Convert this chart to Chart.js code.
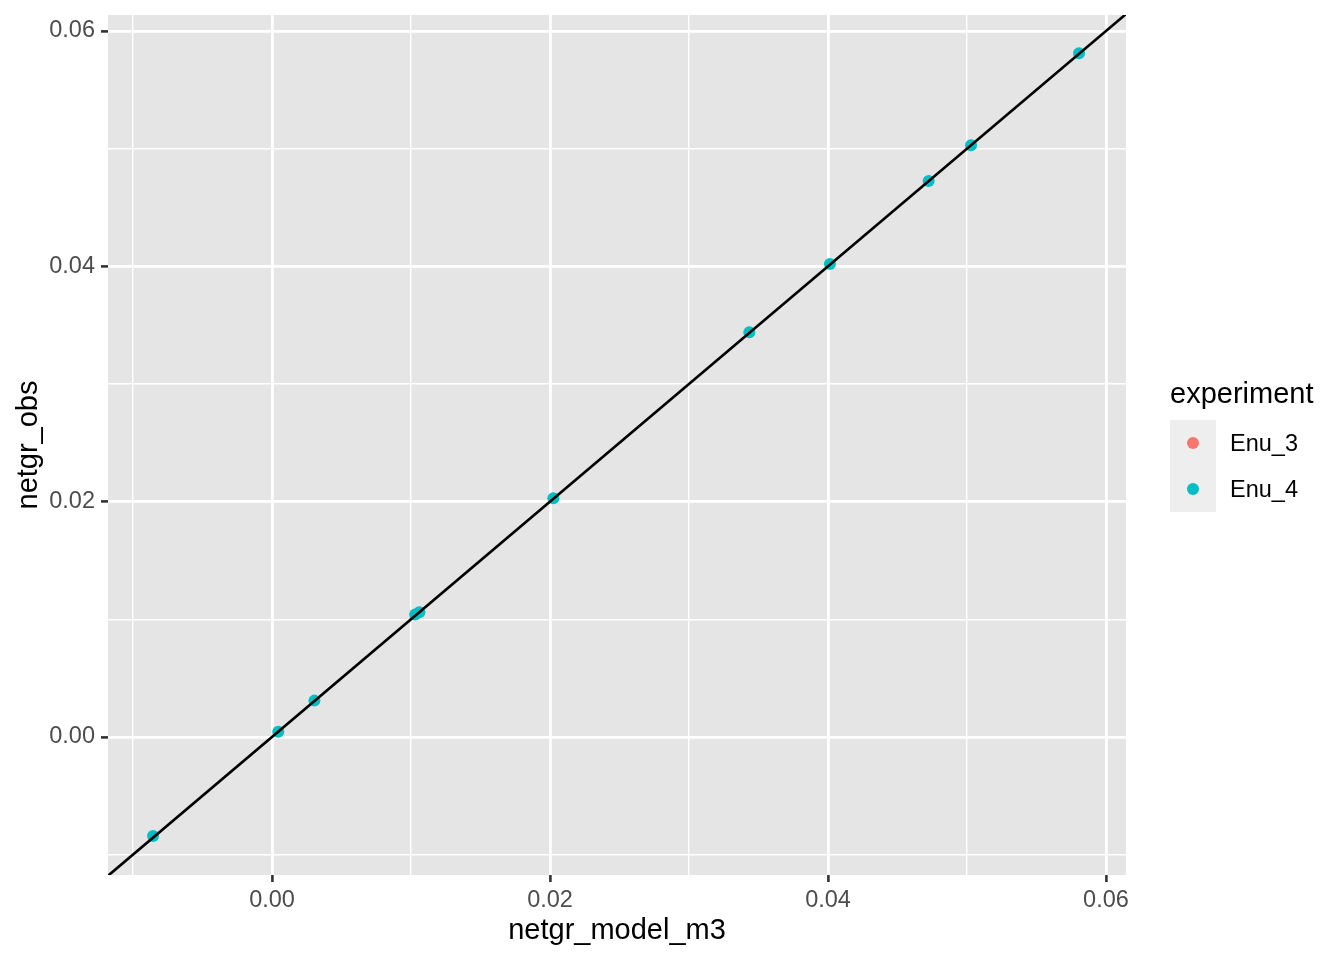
<!DOCTYPE html>
<html>
<head>
<meta charset="utf-8">
<script src="https://cdn.jsdelivr.net/npm/chart.js@4/dist/chart.umd.min.js"></script>
<style>
  html, body { margin: 0; padding: 0; background: #ffffff; }
  #wrap { position: relative; width: 1344px; height: 960px; }
  canvas { position: absolute; left: 0; top: 0; }
  .lg { position: absolute; font-family: "Liberation Sans", Arial, sans-serif; color: #000; white-space: nowrap; }
  .lgTitle { left: 1170px; top: 376px; font-size: 29px; line-height: 34px; }
  .lgKeys { left: 1170px; top: 420px; width: 46px; height: 92px; background: #EEEEEE; }
  .dot { position: absolute; width: 12px; height: 12px; border-radius: 50%; left: 17px; }
  .lgLabel { font-size: 23.5px; line-height: 28px; left: 1230px; }
</style>
</head>
<body>
<div id="wrap">
  <canvas id="c" width="1344" height="960"></canvas>
  <div class="lg lgTitle">experiment</div>
  <div class="lg lgKeys">
    <div class="dot" style="top:17px;background:#F8766D"></div>
    <div class="dot" style="top:63px;background:#00BFC4"></div>
  </div>
  <div class="lg lgLabel" style="top:429px">Enu_3</div>
  <div class="lg lgLabel" style="top:475px">Enu_4</div>
</div>
<script>
// ---- data ----
const seriesNames = ["Enu_3", "Enu_4"];
const seriesColors = ["#F8766D", "#00BFC4"];
const enu3Model = [];
const enu3Obs = [];
const enu4Model = [-0.00856, 0.00045, 0.00305, 0.0103, 0.0106, 0.02024, 0.03434, 0.04014, 0.04724, 0.05029, 0.05806];
const enu4Obs   = [-0.00841, 0.00045, 0.00309, 0.0104, 0.0106, 0.02029, 0.0344, 0.0402, 0.04726, 0.05029, 0.05811];
const xTicks = [-0.01, 0.00, 0.01, 0.02, 0.03, 0.04, 0.05, 0.06];
const yTicks = [-0.01, 0.00, 0.01, 0.02, 0.03, 0.04, 0.05, 0.06];
const majorTicks = [0.00, 0.02, 0.04, 0.06];
const xRange = [-0.0118, 0.06144];
const yRange = [-0.01173, 0.06136];
const ablineX = [-0.02, 0.07]; // reference line y = x
const ablineSlope = 1, ablineIntercept = 0;

const toPts = (xs, ys) => xs.map((x, i) => ({x: x, y: ys[i]}));
const isMajor = v => majorTicks.some(m => Math.abs(m - v) < 1e-9);

const bgPlugin = {
  id: 'panelBg',
  beforeDraw(chart) {
    const {ctx, chartArea: a} = chart;
    ctx.save();
    ctx.fillStyle = '#E5E5E5';
    ctx.fillRect(a.left, a.top, a.right - a.left, a.bottom - a.top);
    ctx.restore();
  }
};

const FONT = '"Liberation Sans", Arial, sans-serif';
const gridOpts = {
  color: '#FFFFFF',
  lineWidth: c => (c.tick && isMajor(c.tick.value)) ? 2.8 : 1.4,
  tickColor: c => (c.tick && isMajor(c.tick.value)) ? '#333333' : 'rgba(0,0,0,0)',
  tickWidth: 2.6,
  tickLength: 7,
  drawTicks: true
};

new Chart(document.getElementById('c'), {
  type: 'scatter',
  data: {
    datasets: [
      {
        type: 'line',
        label: 'abline',
        data: ablineX.map(x => ({x: x, y: ablineSlope * x + ablineIntercept})),
        borderColor: '#000000',
        borderWidth: 2.6,
        pointRadius: 0,
        fill: false,
        order: 0
      },
      {
        label: seriesNames[1],
        data: toPts(enu4Model, enu4Obs),
        backgroundColor: seriesColors[1],
        borderWidth: 0,
        pointRadius: 6,
        order: 1
      },
      {
        label: seriesNames[0],
        data: toPts(enu3Model, enu3Obs),
        backgroundColor: seriesColors[0],
        borderWidth: 0,
        pointRadius: 6,
        order: 2
      }
    ]
  },
  options: {
    responsive: false,
    animation: false,
    layout: { padding: { top: 15, right: 218, left: 0, bottom: 0 } },
    plugins: { legend: { display: false }, tooltip: { enabled: false } },
    scales: {
      x: {
        type: 'linear',
        min: xRange[0], max: xRange[1],
        afterBuildTicks: s => { s.ticks = xTicks.map(v => ({value: v})); },
        afterFit: s => { s.height = 85; s.paddingLeft = 0; s.paddingRight = 0; },
        grid: gridOpts,
        border: { display: false },
        ticks: {
          autoSkip: false, maxRotation: 0, padding: 4,
          color: '#4D4D4D',
          font: { family: FONT, size: 23.5 },
          callback: v => isMajor(v) ? v.toFixed(2) : ''
        },
        title: {
          display: true, text: 'netgr_model_m3', color: '#000000',
          font: { family: FONT, size: 29 },
          padding: { top: 0, bottom: 12 }
        }
      },
      y: {
        type: 'linear',
        min: yRange[0], max: yRange[1],
        afterBuildTicks: s => { s.ticks = yTicks.map(v => ({value: v})); },
        afterFit: s => { s.width = 108; s.paddingTop = 0; s.paddingBottom = 0; },
        grid: gridOpts,
        border: { display: false },
        ticks: {
          autoSkip: false, padding: 6,
          color: '#4D4D4D',
          font: { family: FONT, size: 23.5 },
          callback: v => isMajor(v) ? v.toFixed(2) : ''
        },
        title: {
          display: true, text: 'netgr_obs', color: '#000000',
          font: { family: FONT, size: 29 },
          padding: { top: 12, bottom: 0 }
        }
      }
    }
  },
  plugins: [bgPlugin]
});
</script>
</body>
</html>
